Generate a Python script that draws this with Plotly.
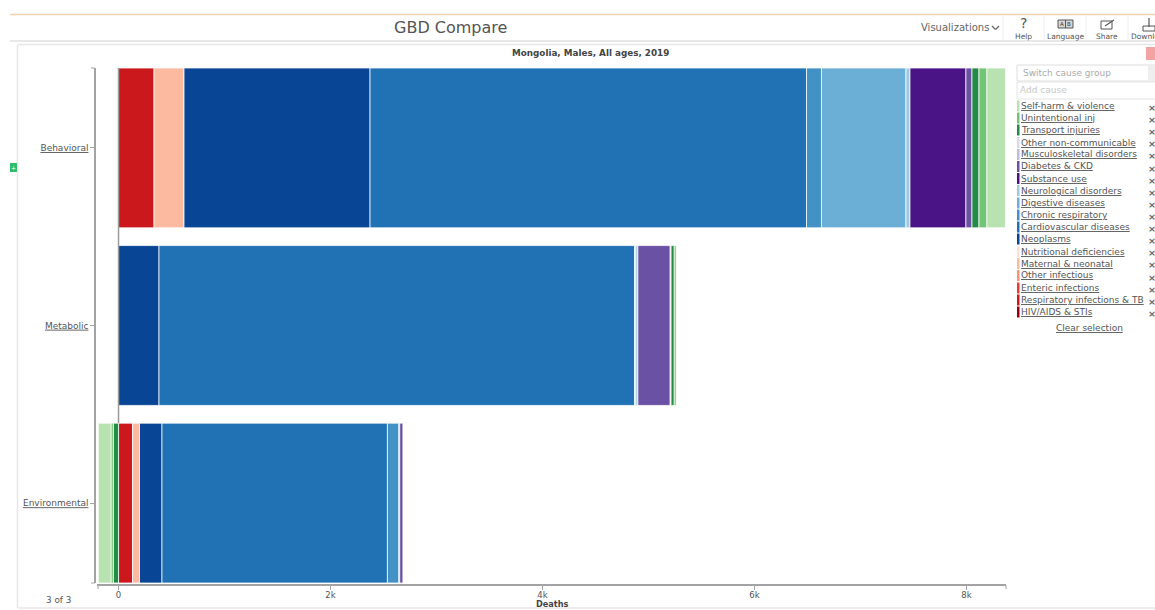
import plotly.graph_objects as go

W, H = 1155, 610
FONT = "DejaVu Sans"

categories = ["Behavioral", "Metabolic", "Environmental"]
causes = ["HIV/AIDS & STIs", "Respiratory infections & TB", "Enteric infections", "Other infectious",
          "Maternal & neonatal", "Nutritional deficiencies", "Neoplasms", "Cardiovascular diseases",
          "Chronic respiratory", "Digestive diseases", "Neurological disorders", "Substance use",
          "Diabetes & CKD", "Musculoskeletal disorders", "Other non-communicable", "Transport injuries",
          "Unintentional inj", "Self-harm & violence"]
colors = ["#99000d", "#cb181d", "#ef3b2c", "#fc9272", "#fcbba1", "#fee0d2", "#084594", "#2171b5",
          "#4292c6", "#6baed6", "#9ecae1", "#4a1486", "#6a51a3", "#bcbddc", "#dadaeb", "#238b45",
          "#74c476", "#b8e3b0"]
hiv = [None, None, None]
respiratory = [335, None, 132]
enteric = [None, None, None]
other_infectious = [None, None, None]
maternal = [283, None, 66]
nutritional = [None, None, None]
neoplasms = [1755, 382, 212]
cardiovascular = [4118, 4486, 2127]
chronic_resp = [141, None, 108]
digestive = [797, 12, None]
neurological = [38, 20, 8]
substance = [528, None, None]
diabetes = [57, 305, 30]
musculoskeletal = [None, 8, None]
other_ncd = [None, None, None]
transport = [66, 30, -49]
unintentional = [75, 18, -22]
self_harm = [175, None, -120]
series = [hiv, respiratory, enteric, other_infectious, maternal, nutritional, neoplasms, cardiovascular,
          chronic_resp, digestive, neurological, substance, diabetes, musculoskeletal, other_ncd,
          transport, unintentional, self_harm]

x_ticks = [0, 2000, 4000, 6000, 8000]
x_labels = ["0", "2k", "4k", "6k", "8k"]

legend_order = list(range(len(causes) - 1, -1, -1))
legend_y = [106, 118, 130, 142.5, 154.5, 166.5, 178.5, 190.5, 203, 215, 227, 239, 251.5, 263.5, 275.5, 288, 300, 312]

AXIS = "#a3a3a3"


def px(x):
    return x / W


def py(y):
    return 1 - y / H


fig = go.Figure()
for name, vals, c in zip(causes, series, colors):
    fig.add_trace(go.Bar(y=categories, x=vals, name=name, orientation="h",
                         marker=dict(color=c, line=dict(color="rgba(255,255,255,0.75)", width=1)),
                         showlegend=False))

ann = []


def txt(x, y, s, size=9, color="#555", anchor="left", bold=False):
    if bold:
        s = "<b>" + s + "</b>"
    ann.append(dict(x=px(x), y=py(y), xref="paper", yref="paper", text=s, showarrow=False,
                    xanchor=anchor, yanchor="middle", align=anchor,
                    font=dict(family=FONT, size=size, color=color), borderpad=0, borderwidth=0))


shapes = []


def rect(x0, y0, x1, y1, line=None, fill=None, w=1):
    shapes.append(dict(type="rect", xref="paper", yref="paper", x0=px(x0), x1=px(x1), y0=py(y0), y1=py(y1),
                       line=dict(color=line or "rgba(0,0,0,0)", width=w if line else 0),
                       fillcolor=fill or "rgba(0,0,0,0)", layer="above"))


def seg(x0, y0, x1, y1, color="#999", w=1):
    shapes.append(dict(type="line", xref="paper", yref="paper", x0=px(x0), x1=px(x1), y0=py(y0), y1=py(y1),
                       line=dict(color=color, width=w), layer="above"))


# page chrome
seg(10, 14.5, 1155, 14.5, "#f0d3ae", 1.5)
seg(10, 41, 1155, 41, "#e8e8e8", 2)
seg(17.5, 45, 17.5, 608, "#e6e6e6", 1.5)
seg(18, 44.5, 1155, 44.5, "#e6e6e6", 1.5)
seg(18, 608, 1155, 608, "#e6e6e6", 1.5)
rect(10, 163, 17, 172, fill="#2ebd6b")
txt(13.5, 167.5, "+", 6, "#ffffff", "center")
rect(1146, 47, 1155, 60, fill="#f4a3a3")
for vx in (1003, 1044, 1086, 1128):
    seg(vx, 15, vx, 40, "#eeeeee", 1)

txt(450.5, 28, "GBD Compare", 16, "#555", "center")
txt(954.5, 28, "Visualizations", 10, "#666", "center")
seg(992, 26, 995.5, 29.5, "#666", 1.2)
seg(995.5, 29.5, 999, 26, "#666", 1.2)
txt(1023, 23, "?", 14, "#555", "center")
txt(1023, 36, "Help", 7.5, "#555", "center")
rect(1058, 20, 1073, 28, line="#555", fill="#d8d8d8")
seg(1065.5, 20, 1065.5, 28, "#555", 1)
txt(1061.8, 24, "A", 5.5, "#333", "center")
txt(1069.2, 24, "B", 5.5, "#333", "center")
txt(1065, 36, "Language", 7.5, "#555", "center")
rect(1101, 21, 1112, 29, line="#555")
seg(1105, 26, 1114, 20, "#555", 1.2)
txt(1107, 36, "Share", 7.5, "#555", "center")
rect(1143, 26, 1155, 31, line="#555")
seg(1149, 18, 1149, 27, "#555", 1.2)
txt(1131, 36, "Download", 7.5, "#555", "left")

txt(590.5, 53, "Mongolia, Males, All ages, 2019", 8.8, "#444", "center", True)
txt(58, 600, "3 of 3", 8.8, "#555", "center")
txt(552, 604, "Deaths", 8.2, "#444", "center", True)

# y axis bracket ends
seg(91, 68, 95, 68, AXIS, 1)
seg(91, 583, 95, 583, AXIS, 1)
# x axis bracket ends
seg(98, 585, 98, 589, AXIS, 1)
seg(1006, 585, 1006, 589, AXIS, 1)

# zero reference line, running down to the top of the last bar
shapes.append(dict(type="line", xref="x", yref="paper", x0=0, x1=0, y0=py(423), y1=py(68),
                   line=dict(color="#9a9a9a", width=1.5), layer="above"))

# right panel
rect(1017, 65, 1160, 81, line="#dddddd", fill="#ffffff")
rect(1148, 65, 1160, 81, fill="#eeeeee")
rect(1017, 82, 1160, 99, line="#e4e4e4", fill="#ffffff")
txt(1023, 73, "Switch cause group", 9, "#aaaaaa")
txt(1020, 90, "Add cause", 9, "#c8c8c8")
for i, yy in zip(legend_order, legend_y):
    rect(1017, yy - 5.5, 1019.5, yy + 5.5, fill=colors[i])
    txt(1021, yy, "<u>" + causes[i] + "</u>", 9, "#555")
    txt(1152, yy + 1.5, "<b>×</b>", 9.5, "#666", "center")
txt(1089, 327.5, "<u>Clear selection</u>", 9, "#555", "center")

fig.update_layout(
    width=W, height=H, barmode="relative", bargap=0.1,
    paper_bgcolor="white", plot_bgcolor="white",
    margin=dict(l=0, r=0, t=0, b=0, autoexpand=False),
    xaxis=dict(domain=[px(97), px(1006)], range=[-203, 8373], tickvals=x_ticks, ticktext=x_labels,
               anchor="free", position=py(585), showgrid=False, zeroline=False,
               showline=True, linecolor=AXIS, linewidth=1.5, ticks="outside",
               ticklen=4, tickcolor=AXIS, ticklabelstandoff=-2,
               tickfont=dict(family=FONT, size=8.5, color="#555")),
    yaxis=dict(domain=[py(583), py(68)], range=[2.45, -0.45], type="category",
               categoryorder="array", categoryarray=categories,
               tickvals=categories, ticktext=["<u>" + c + "</u>" for c in categories],
               anchor="free", position=px(95), showgrid=False, zeroline=False, showline=True,
               linecolor=AXIS, linewidth=1.5, ticks="outside", ticklen=4, tickcolor=AXIS,
               tickfont=dict(family=FONT, size=9, color="#555")),
    annotations=ann, shapes=shapes,
)

fig.write_html("out.html", config={"displayModeBar": False},
               post_script="document.body.style.margin='0';document.body.style.overflow='hidden';")
